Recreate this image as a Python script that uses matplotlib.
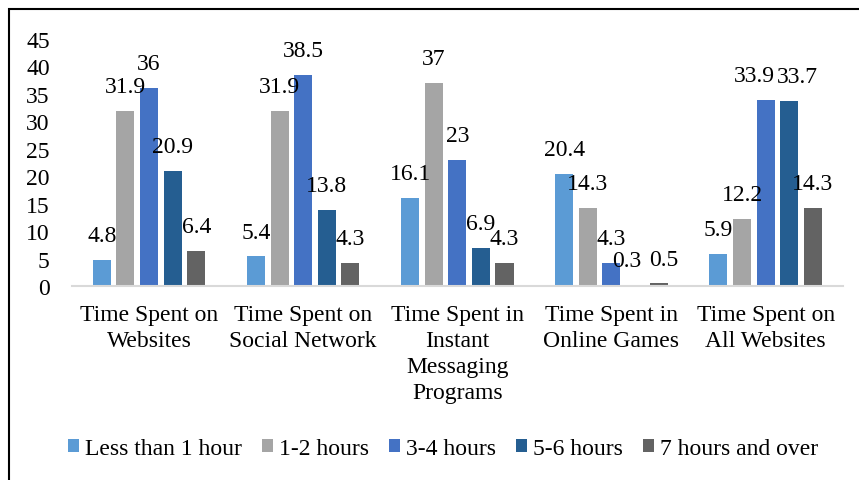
import numpy as np
import matplotlib.pyplot as plt
from matplotlib.patches import Rectangle

categories = ['Time Spent on\nWebsites', 'Time Spent on\nSocial Network',
              'Time Spent in\nInstant\nMessaging\nPrograms',
              'Time Spent in\nOnline Games', 'Time Spent on\nAll Websites']
series_names = ['Less than 1 hour', '1-2 hours', '3-4 hours', '5-6 hours', '7 hours and over']
less_1 = [4.8, 5.4, 16.1, 20.4, 5.9]
h1_2 = [31.9, 31.9, 37, 14.3, 12.2]
h3_4 = [36, 38.5, 23, 4.3, 33.9]
h5_6 = [20.9, 13.8, 6.9, 0.3, 33.7]
h7_over = [6.4, 4.3, 4.3, 0.5, 14.3]
colors = ['#5B9BD5', '#A5A5A5', '#4472C4', '#255E91', '#636363']

# label nudges (points) where labels crowd each other, like the original
nudge = {(2, 4): -8, (3, 4): 6, (3, 3): -6, (4, 3): 4}

plt.rcParams['font.family'] = ['Liberation Serif', 'DejaVu Serif']
fs = 17

fig = plt.figure(figsize=(8.59, 4.81), dpi=100)
ax = fig.add_axes([0.0838, 0.403, 0.981 - 0.0838, 0.917 - 0.403])

x = np.arange(len(categories))
width = 0.117
step = 0.153
all_series = [less_1, h1_2, h3_4, h5_6, h7_over]
for i, (vals, name, c) in enumerate(zip(all_series, series_names, colors)):
    pos = x + (i - 2) * step
    ax.bar(pos, vals, width, color=c, label=name)
    for j, (xp, v) in enumerate(zip(pos, vals)):
        dx = nudge.get((i, j), 0)
        ax.annotate('%g' % v, (xp, v), xytext=(dx, 10), textcoords='offset points',
                    ha='center', va='bottom', fontsize=fs)

ax.set_xlim(-0.5, len(categories) - 0.5)
ax.set_ylim(0, 45)
ax.set_yticks(range(0, 46, 5))
ax.set_xticks(x)
ax.set_xticklabels(categories, fontsize=fs, linespacing=1.3)
ax.tick_params(axis='y', length=0, pad=16, labelsize=fs)
ax.tick_params(axis='x', length=0, pad=13)
for s in ['top', 'right', 'left']:
    ax.spines[s].set_visible(False)
ax.spines['bottom'].set_color('#D9D9D9')
ax.spines['bottom'].set_linewidth(1.5)

fig.legend(loc='center', bbox_to_anchor=(0.516, 0.066), ncol=5, frameon=False,
           fontsize=fs, handlelength=0.47, handleheight=0.47, handletextpad=0.25,
           columnspacing=0.85)

fig.patches.append(Rectangle((0.0105, -0.05), 1.1, 0.979 + 0.05, transform=fig.transFigure,
                             fill=False, edgecolor='black', linewidth=1.5))

fig.savefig('out.png', dpi=100)
